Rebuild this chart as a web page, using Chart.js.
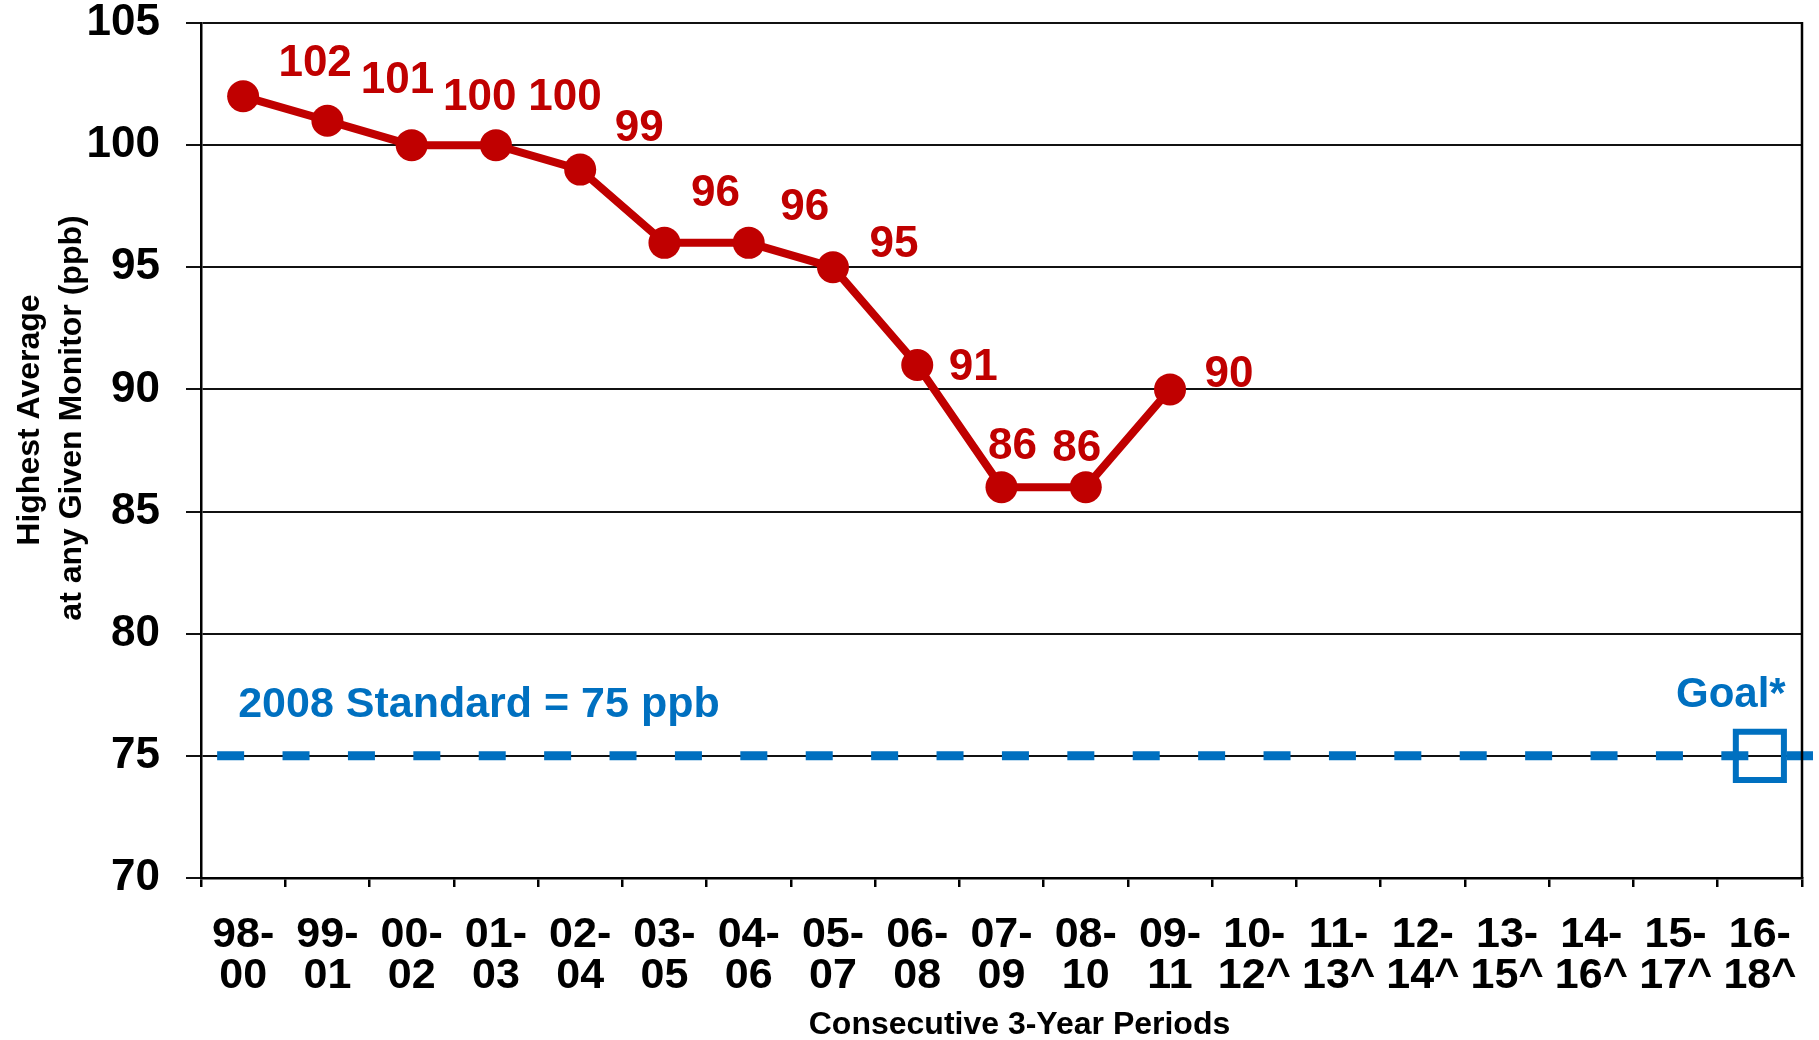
<!DOCTYPE html>
<html lang="en">
<head>
  <meta charset="UTF-8" />
  <script src="https://cdn.jsdelivr.net/npm/chart.js"></script>
  <title>Highest Average at any Given Monitor</title>
  <style>
    body { margin: 0; background: #fff; }
  </style>
</head>
<body>
  <canvas id="grafico" width="1819" height="1040"></canvas>
  <script>
    // periods, split in two lines like the original axis
    const periodStart = ['98-', '99-', '00-', '01-', '02-', '03-', '04-', '05-', '06-', '07-',
                         '08-', '09-', '10-', '11-', '12-', '13-', '14-', '15-', '16-'];
    const periodEnd = ['00', '01', '02', '03', '04', '05', '06', '07', '08', '09',
                       '10', '11', '12^', '13^', '14^', '15^', '16^', '17^', '18^'];
    // highest 3-year average (ppb), measured periods only
    const highestAvg = [102, 101, 100, 100, 99, 96, 96, 95, 91, 86, 86, 90];
    const standardValue = 75;
    const goalValue = 75;
    const yTicks = [70, 75, 80, 85, 90, 95, 100, 105];

    const red = '#C00000';
    const blue = '#0070C0';
    const fontFamily = '"Liberation Sans", Arial, sans-serif';

    const categories = periodStart.map((s, i) => [s, periodEnd[i]]);
    const serie = categories.map((c, i) => i < highestAvg.length ? highestAvg[i] : null);
    const goalSerie = categories.map((c, i) => i === categories.length - 1 ? goalValue : null);

    // where each value label sits relative to its point (px)
    const labelOffsets = [[72, -32], [70, -40], [68, -47], [69, -47], [59, -41], [51, -49],
                          [56, -35], [61, -22], [56, 3], [11, -40], [-9, -38], [59, -15]];

    // keep the plot box where the layout padding puts it
    function noScalePadding(s) {
      s.paddingTop = 0;
      s.paddingBottom = 0;
      s.paddingLeft = 0;
      s.paddingRight = 0;
    }

    const extras = {
      id: 'extras',
      beforeDatasetsDraw(chart) {
        const {ctx, chartArea, scales: {x, y}} = chart;
        const yStd = y.getPixelForValue(standardValue);
        ctx.save();
        // 2008 standard dashed line
        ctx.strokeStyle = blue;
        ctx.lineWidth = 9;
        ctx.setLineDash([27, 38.4]);
        ctx.beginPath();
        ctx.moveTo(x.getPixelForValue(0) - 26, yStd);
        ctx.lineTo(chartArea.right + 11, yStd);
        ctx.stroke();
        ctx.setLineDash([]);
        // right frame
        ctx.strokeStyle = '#000';
        ctx.lineWidth = 2.5;
        ctx.beginPath();
        ctx.moveTo(chartArea.right, chartArea.top - 1);
        ctx.lineTo(chartArea.right, chartArea.bottom);
        ctx.stroke();
        ctx.restore();
      },
      afterDraw(chart) {
        const {ctx, chartArea, scales: {x, y}} = chart;
        const meta = chart.getDatasetMeta(0);
        ctx.save();
        ctx.textBaseline = 'middle';

        // value labels
        ctx.fillStyle = red;
        ctx.font = 'bold 44px ' + fontFamily;
        ctx.textAlign = 'center';
        highestAvg.forEach((v, i) => {
          const p = meta.data[i];
          ctx.fillText(String(v), p.x + labelOffsets[i][0], p.y + labelOffsets[i][1]);
        });

        // standard and goal texts
        const yStd = y.getPixelForValue(standardValue);
        ctx.fillStyle = blue;
        ctx.font = 'bold 43px ' + fontFamily;
        ctx.textAlign = 'left';
        ctx.fillText('2008 Standard = 75 ppb', x.getPixelForValue(0) - 5, yStd - 51);
        ctx.font = 'bold 42px ' + fontFamily;
        ctx.textAlign = 'center';
        ctx.fillText('Goal*', x.getPixelForValue(categories.length - 1) - 29, y.getPixelForValue(goalValue) - 60);

        // axis titles
        ctx.fillStyle = '#000';
        ctx.font = 'bold 32px ' + fontFamily;
        ctx.fillText('Consecutive 3-Year Periods', (chartArea.left + chartArea.right) / 2 + 18, 1025);
        ctx.translate(30, 420);
        ctx.rotate(-Math.PI / 2);
        ctx.fillText('Highest Average', 0, 0);
        ctx.fillText('at any Given Monitor (ppb)', 2, 42);
        ctx.restore();
      }
    };

    const ctx = document.getElementById('grafico').getContext('2d');
    new Chart(ctx, {
      type: 'line',
      data: {
        labels: categories,
        datasets: [
          {
            label: 'Highest Average',
            data: serie,
            borderColor: red,
            borderWidth: 8,
            backgroundColor: red,
            pointBackgroundColor: red,
            pointBorderWidth: 0,
            pointRadius: 16,
            tension: 0,
            fill: false
          },
          {
            label: 'Goal',
            data: goalSerie,
            showLine: false,
            pointStyle: 'rect',
            pointRadius: 34,
            pointBorderWidth: 6,
            pointBorderColor: blue,
            pointBackgroundColor: 'rgba(0,0,0,0)'
          }
        ]
      },
      options: {
        responsive: false,
        animation: false,
        layout: { autoPadding: false, padding: { top: 23, right: 17, bottom: 0, left: 0 } },
        plugins: {
          legend: { display: false },
          tooltip: { enabled: false }
        },
        scales: {
          x: {
            offset: true,
            afterFit: s => { s.height = 162; noScalePadding(s); },
            grid: { offset: true, drawOnChartArea: false, drawTicks: true, tickLength: 9, color: '#000', lineWidth: 2.5 },
            border: { display: true, color: '#000', width: 2.5 },
            ticks: {
              autoSkip: false,
              maxRotation: 0,
              padding: 28,
              color: '#000',
              font: { family: fontFamily, size: 43, weight: 'bold', lineHeight: 0.95 }
            }
          },
          y: {
            min: yTicks[0],
            max: yTicks[yTicks.length - 1],
            afterFit: s => { s.width = 201; noScalePadding(s); },
            afterBuildTicks: s => { s.ticks = yTicks.map(v => ({ value: v })); },
            grid: { color: '#111', lineWidth: 2, tickLength: 15 },
            border: { display: true, color: '#000', width: 2.5 },
            ticks: {
              padding: 26,
              color: '#000',
              font: { family: fontFamily, size: 44, weight: 'bold' }
            }
          }
        }
      },
      plugins: [extras]
    });
  </script>
</body>
</html>
